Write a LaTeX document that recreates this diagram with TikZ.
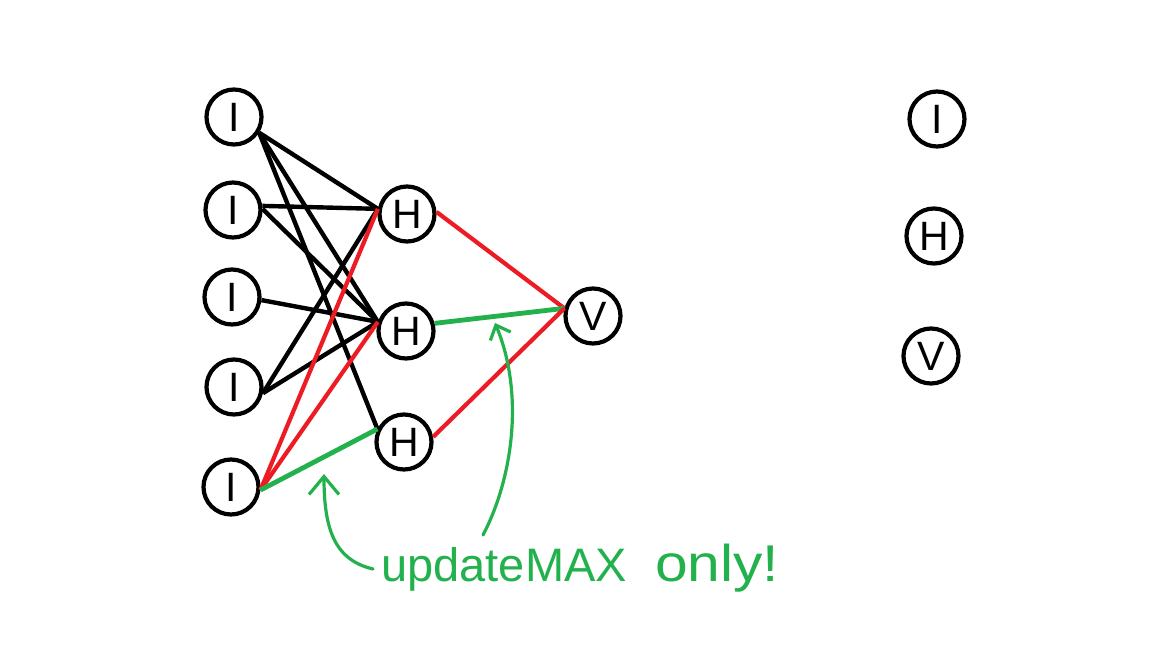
\documentclass[tikz,border=0pt]{standalone}
\usepackage{fontspec}
\usepackage{graphicx}
\setmainfont{Liberation Sans}
\usetikzlibrary{arrows.meta}
\definecolor{pred}{RGB}{237,28,36}
\definecolor{pgreen}{RGB}{34,177,76}
\begin{document}
\begin{tikzpicture}[x=0.5pt,y=-0.5pt,
  neuron/.style={circle, draw, line width=2.1pt, minimum size=27.5pt, inner sep=0pt, font=\fontsize{20.5}{20.5}\selectfont},
  blk/.style={line width=2.2pt, black},
  redl/.style={line width=2.1pt, pred},
  grn/.style={line width=2.4pt, pgreen},
  hand/.style={pgreen, line width=1.6pt, line cap=round, line join=round},
  barbL/.style={-{Straight Barb[length=9pt,width=15pt,line width=1.6pt]}},
  barbR/.style={-{Straight Barb[length=6pt,width=11pt,line width=1.6pt]}}]
\useasboundingbox (0,0) rectangle (1152,648);
\fill[white] (0,0) rectangle (1152,648);
% input layer
\node[neuron] (I1) at (234,117) {I};
\node[neuron] (I2) at (233,210) {I};
\node[neuron] (I3) at (232,297) {I};
\node[neuron] (I4) at (234,387) {I};
\node[neuron] (I5) at (231,487) {I};
% hidden layer
\node[neuron] (H1) at (407,214) {H};
\node[neuron] (H2) at (406,331) {H};
\node[neuron] (H3) at (404,442) {H};
% output
\node[neuron] (V) at (593,316) {V};
% legend column
\node[neuron] (LI) at (937,119) {I};
\node[neuron] (LH) at (934,236) {H};
\node[neuron] (LV) at (931,356) {V};
% black edges
\draw[blk] (I1.-32) -- (H1.170);
\draw[blk] (I1.-32) -- (H2.162);
\draw[blk] (I1.-32) -- (H3.154);
\draw[blk] (I2.8) -- (H1.170);
\draw[blk] (I2.2) -- (H2.162);
\draw[blk] (I3.-6) -- (H2.162);
\draw[blk] (I4.-12) -- (H1.170);
\draw[blk] (I4.-12) -- (H2.162);
% red and green edges
\draw[redl] (I5.-6) -- (H1.170);
\draw[redl] (I5.-6) -- (H2.162);
\draw[grn] (I5.-6) -- (H3.154);
\draw[redl] (H1.4) -- (V.165);
\draw[grn] (H2.15) -- (V.165);
\draw[redl] (H3.10) -- (V.165);
% note
\node[pgreen, anchor=base west, inner sep=0pt, font=\fontsize{23.5}{23.5}\selectfont] (note) at (381,581) {updateMAX\hspace{14pt}\scalebox{1.25}[1.1]{only!}};
\coordinate (a1s) at (373,569);
\coordinate (a1e) at (324,474);
\coordinate (a2s) at (483,535);
\coordinate (a2e) at (495,323);
\draw[hand, barbL] (a1s) .. controls (335,560) and (324,530) .. (a1e);
\draw[hand, barbR] (a2s) .. controls (512,480) and (525,395) .. (a2e);
\end{tikzpicture}
\end{document}
